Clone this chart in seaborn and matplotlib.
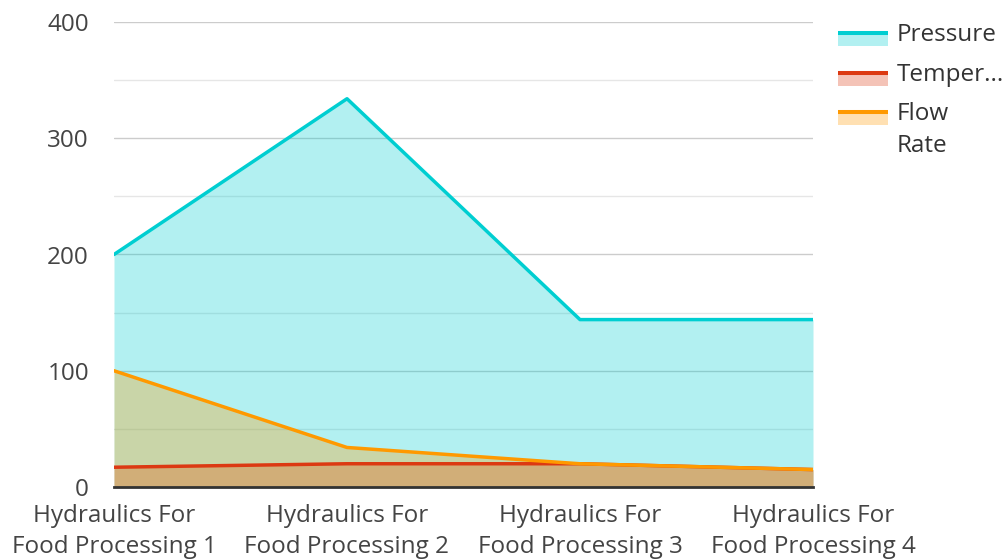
import numpy as np
import pandas as pd
import matplotlib
matplotlib.use("Agg")
import matplotlib.pyplot as plt
import seaborn as sns
from matplotlib.patches import Rectangle
from matplotlib.lines import Line2D

categories = ["Hydraulics For\nFood Processing 1", "Hydraulics For\nFood Processing 2",
              "Hydraulics For\nFood Processing 3", "Hydraulics For\nFood Processing 4"]
pressure = [200, 334, 144, 144]
temperature = [17, 20, 20, 15]
flow_rate = [100, 34, 20, 15]

series_names = ["Pressure", "Temperature", "Flow Rate"]
legend_labels = ["Pressure", "Temper...", "Flow\nRate"]
colors = ["#00CED1", "#DC3912", "#FF9900"]

W, H = 1003, 560
FS = 17.5

sns.set_theme(style="white")
plt.rcParams['font.family'] = ['Open Sans', 'DejaVu Sans']

df = pd.DataFrame({"x": np.arange(len(categories)), "Pressure": pressure,
                   "Temperature": temperature, "Flow Rate": flow_rate})

fig = plt.figure(figsize=(W / 100, H / 100), dpi=100)
ax = fig.add_axes([114 / W, 1 - 487 / H, (813 - 114) / W, (487 - 22) / H])

for name, col in zip(series_names, colors):
    ax.fill_between(df["x"], 0, df[name], color=col, alpha=0.3, linewidth=0, zorder=2)
    sns.lineplot(data=df, x="x", y=name, color=col, linewidth=2.5, ax=ax, zorder=3)

ax.set_xlim(0, 3)
ax.set_ylim(0, 400)
ax.set_yticks([0, 100, 200, 300, 400])
ax.set_yticks([50, 150, 250, 350], minor=True)
ax.grid(which="major", axis="y", color="#cccccc", linewidth=1, zorder=1)
ax.grid(which="minor", axis="y", color="#e6e6e6", linewidth=1, zorder=1)
ax.set_axisbelow(True)
ax.set_xticks(df["x"])
ax.set_xticklabels(categories, linespacing=1.35)
ax.tick_params(axis="both", which="both", length=0, labelsize=FS, labelcolor="#444444")
ax.tick_params(axis="y", pad=18)
ax.tick_params(axis="x", pad=12.5)
ax.set_xlabel("")
ax.set_ylabel("")
for s in ["top", "right", "left"]:
    ax.spines[s].set_visible(False)
ax.spines["bottom"].set_color("#333333")
ax.spines["bottom"].set_linewidth(2)
ax.spines["bottom"].set_zorder(5)


# legend drawn by hand (swatch = light fill with the line on top)
def fx(x):
    return x / W


def fy(y):
    return 1 - y / H


legend_tops = [33, 73, 112]
for lab, col, top in zip(legend_labels, colors, legend_tops):
    fig.add_artist(Rectangle((fx(838), fy(top + 13)), fx(888) - fx(838), fy(top) - fy(top + 13),
                             transform=fig.transFigure, facecolor=col, alpha=0.3, linewidth=0))
    fig.add_artist(Line2D([fx(838), fx(888)], [fy(top), fy(top)], transform=fig.transFigure,
                          color=col, linewidth=2.9, solid_capstyle="butt"))
    fig.text(fx(897), fy(top - 10), lab, fontsize=FS, color="#333333", va="top",
             ha="left", linespacing=1.42)

fig.savefig("out.png", dpi=100)
